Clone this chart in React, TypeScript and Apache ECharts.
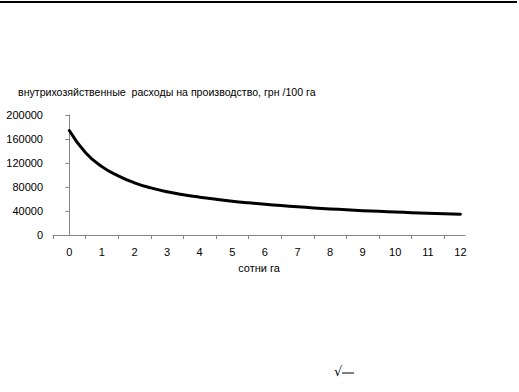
import React, { useEffect, useRef } from "react";
import * as echarts from "echarts";

// Hundreds of hectares (x) and in-farm production costs, UAH / 100 ha (y)
const xValues = [0, 0.5, 1, 1.5, 2, 2.5, 3, 3.5, 4, 4.5, 5, 5.5, 6, 6.5, 7, 7.5, 8, 8.5, 9, 9.5, 10, 10.5, 11, 11.5, 12];
const costValues = [
  174000, 137000, 114000, 98500, 87000, 78500, 72000, 67000, 63000, 59500, 56300, 53600, 51200,
  49000, 47000, 45200, 43500, 42000, 40600, 39400, 38300, 37200, 36200, 35300, 34500,
];

const xTickLabels = [0, 1, 2, 3, 4, 5, 6, 7, 8, 9, 10, 11, 12];
const xTickMarks = [-0.5, 0.5, 1.5, 2.5, 3.5, 4.5, 5.5, 6.5, 7.5, 8.5, 9.5, 10.5, 11.5];

const titleText = "внутрихозяйственные  расходы на производство, грн /100 га";
const xAxisName = "сотни га";

export default function App() {
  const ref = useRef<HTMLDivElement>(null);

  useEffect(() => {
    if (!ref.current) return;
    const chart = echarts.init(ref.current, null, { renderer: "svg" });
    const font = "'Liberation Sans', Arial, sans-serif";
    const axisColor = "#868686";
    chart.setOption({
      animation: false,
      backgroundColor: "#ffffff",
      textStyle: { fontFamily: font },
      title: {
        text: titleText,
        left: 13,
        top: 81,
        textStyle: { fontSize: 10.6, fontWeight: "normal", color: "#000", fontFamily: font },
      },
      grid: { left: 53, right: 54, top: 115, bottom: 157, containLabel: false },
      xAxis: {
        type: "value",
        min: -0.5,
        max: 12.14,
        splitLine: { show: false },
        axisLine: { show: true, lineStyle: { color: axisColor, width: 1 } },
        axisTick: { show: true, length: 4, customValues: xTickMarks, lineStyle: { color: axisColor } },
        axisLabel: { customValues: xTickLabels, color: "#000", fontSize: 11, margin: 11, fontFamily: font },
        name: xAxisName,
        nameLocation: "middle",
        nameGap: 27,
        nameTextStyle: { color: "#000", fontSize: 11, fontFamily: font },
      },
      yAxis: {
        type: "value",
        min: 0,
        max: 200000,
        interval: 40000,
        splitLine: { show: false },
        axisLine: { show: true, lineStyle: { color: axisColor, width: 1 } },
        axisTick: { show: true, length: 4, lineStyle: { color: axisColor } },
        axisLabel: {
          color: "#000",
          fontSize: 11,
          margin: 10,
          fontFamily: font,
          formatter: (v: number) => String(v),
        },
      },
      series: [
        {
          type: "line",
          data: xValues.map((x, i) => [x, costValues[i]]),
          smooth: 0.5,
          showSymbol: false,
          lineStyle: { color: "#000", width: 3, cap: "round", join: "round" },
        },
      ],
      graphic: [
        { type: "line", shape: { x1: 0, y1: 2, x2: 517, y2: 2 }, style: { stroke: "#000", lineWidth: 2 } },
        { type: "text", x: 334, y: 365, style: { text: "√", fontSize: 13, fill: "#000", fontFamily: "'DejaVu Sans'" } },
        { type: "line", shape: { x1: 342, y1: 373, x2: 354, y2: 373 }, style: { stroke: "#000", lineWidth: 1 } },
      ],
    });
    return () => chart.dispose();
  }, []);

  return <div ref={ref} style={{ position: "absolute", left: 0, top: 0, width: 519, height: 392 }} />;
}
